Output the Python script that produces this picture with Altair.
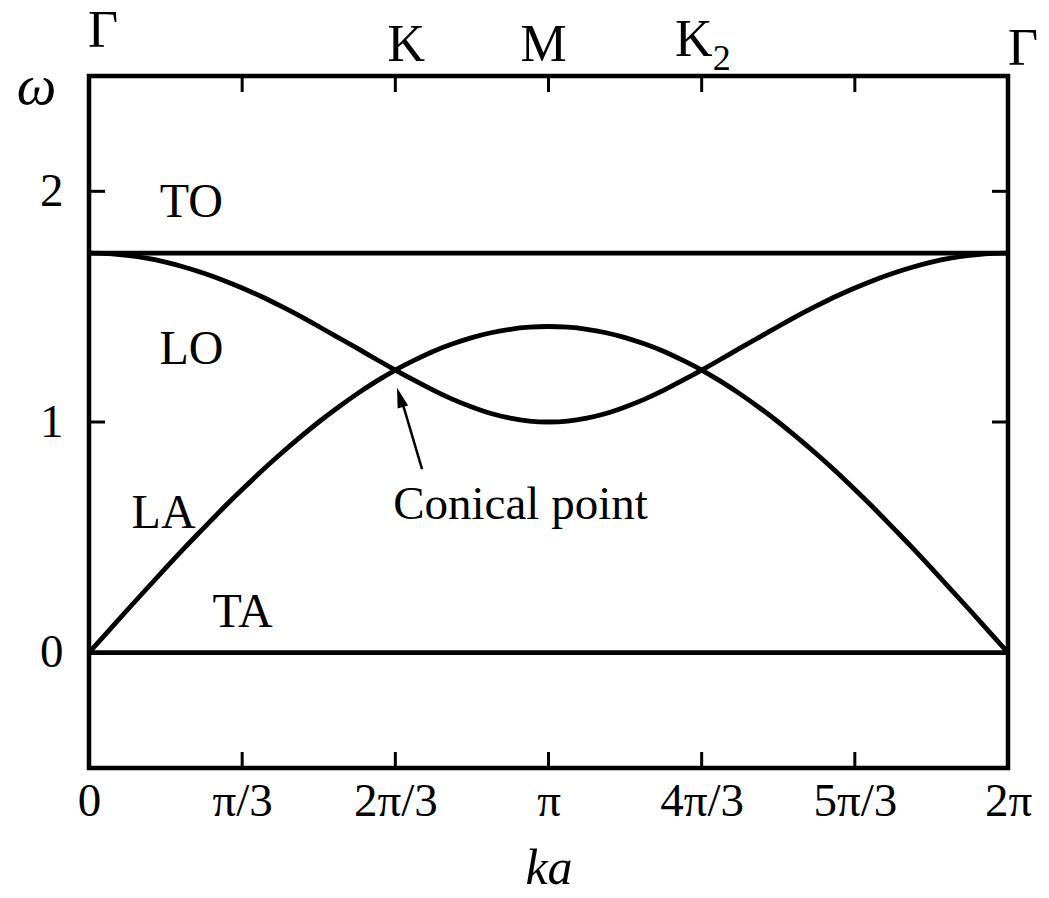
import math
import altair as alt
import pandas as pd

PI = math.pi

# Phonon branches sampled along Gamma-K-M-K2-Gamma, step pi/24 in ka
k_steps = list(range(49))
la_half = [0.000, 0.092, 0.185, 0.276, 0.366, 0.455, 0.541, 0.626, 0.707, 0.786, 0.861, 0.932,
           1.000, 1.063, 1.122, 1.176, 1.225, 1.268, 1.307, 1.339, 1.366, 1.387, 1.402, 1.411, 1.414]
lo_half = [1.732, 1.730, 1.722, 1.710, 1.693, 1.671, 1.645, 1.615, 1.581, 1.544, 1.503, 1.460,
           1.414, 1.367, 1.320, 1.272, 1.225, 1.180, 1.137, 1.098, 1.065, 1.037, 1.017, 1.004, 1.000]
# second half of the path mirrors the first (M is the midpoint)
la_values = la_half + la_half[-2::-1]
lo_values = lo_half + lo_half[-2::-1]
to_value = 1.732
ta_value = 0.0

# Axis ticks and labels
x_tick_steps = [0, 1, 2, 3, 4, 5, 6]          # multiples of pi/3
x_tick_labels = ["0", "π/3", "2π/3", "π", "4π/3", "5π/3", "2π"]
y_ticks = [0, 1, 2]

# Branch names and their positions (ka, omega)
branch_names = ["TO", "LO", "LA", "TA"]
branch_ka = [0.70, 0.70, 0.51, 1.05]
branch_omega = [1.95, 1.31, 0.60, 0.17]

# Annotation for the crossing of LA and LO
note_text = "Conical point"
note_ka, note_omega = 2.95, 0.64
arrow_tail = (2.277, 0.796)
arrow_tip = (2.106, 1.148)

FONT = "Liberation Serif"
W, H = 919, 692
X_DOM = [0, 2 * PI]
Y_DOM = [-0.5, 2.5]

xs = alt.Scale(domain=X_DOM, nice=False, zero=False)
ys = alt.Scale(domain=Y_DOM, nice=False, zero=False)

ka = [n * PI / 24 for n in k_steps]
curves = pd.concat([
    pd.DataFrame({"ka": ka, "omega": la_values, "branch": "LA"}),
    pd.DataFrame({"ka": ka, "omega": lo_values, "branch": "LO"}),
    pd.DataFrame({"ka": [0, 2 * PI], "omega": [to_value, to_value], "branch": "TO"}),
    pd.DataFrame({"ka": [0, 2 * PI], "omega": [ta_value, ta_value], "branch": "TA"}),
])

label_expr = "[" + ",".join("'%s'" % s for s in x_tick_labels) + "][round(datum.value*3/PI)]"

lines = alt.Chart(curves).mark_line(
    color="black", strokeWidth=4.8, interpolate="natural", clip=True
).encode(
    x=alt.X("ka:Q", scale=xs, axis=alt.Axis(
        values=[s * PI / 3 for s in x_tick_steps], labelExpr=label_expr,
        title="ka", titleFontStyle="italic", titleFontWeight="normal",
        titleFont=FONT, titleFontSize=50, titleY=100, titleBaseline="middle",
        labelFont=FONT, labelFontSize=47, labelPadding=10, labelColor="black",
        ticks=False, domain=False, grid=False, labelFlush=False,
    )),
    y=alt.Y("omega:Q", scale=ys, axis=alt.Axis(
        values=y_ticks, format="d",
        title="ω", titleAngle=0, titleFontStyle="italic", titleFontWeight="normal",
        titleFont=FONT, titleFontSize=56, titleX=-53, titleY=10,
        titleAlign="center", titleBaseline="middle",
        labelFont=FONT, labelFontSize=47, labelPadding=26, labelColor="black",
        ticks=False, domain=False, grid=False, labelFlush=False,
    )),
    detail="branch:N",
)

# Inward ticks on all four sides of the frame
xt = pd.DataFrame({"ka": [s * PI / 3 for s in x_tick_steps[1:-1]]})
yt = pd.DataFrame({"omega": y_ticks[1:]})
tick_style = dict(color="black", strokeWidth=3)
bottom_ticks = alt.Chart(xt).mark_rule(**tick_style).encode(
    x=alt.X("ka:Q", scale=xs), y=alt.value(H), y2=alt.value(H - 16))
top_ticks = alt.Chart(xt).mark_rule(**tick_style).encode(
    x=alt.X("ka:Q", scale=xs), y=alt.value(0), y2=alt.value(16))
left_ticks = alt.Chart(yt).mark_rule(**tick_style).encode(
    y=alt.Y("omega:Q", scale=ys), x=alt.value(0), x2=alt.value(16))
right_ticks = alt.Chart(yt).mark_rule(**tick_style).encode(
    y=alt.Y("omega:Q", scale=ys), x=alt.value(W), x2=alt.value(W - 16))

# Symmetry point labels above the frame
def point_label(text, at, dx, y, size=52):
    return alt.Chart(pd.DataFrame({"ka": [at], "t": [text]})).mark_text(
        font=FONT, fontSize=size, color="black", baseline="alphabetic",
        align="center", dx=dx
    ).encode(x=alt.X("ka:Q", scale=xs), y=alt.value(y), text="t:N")

top_labels = [
    point_label("Γ", 0, 14, 47 - 76),
    point_label("K", 2 * PI / 3, 11, 61 - 76),
    point_label("M", PI, -5, 61 - 76),
    point_label("K", 4 * PI / 3, -8, 56 - 76),
    point_label("2", 4 * PI / 3, 20, 70 - 76, size=36),
    point_label("Γ", 2 * PI, 15, 65 - 76),
]

branch_df = pd.DataFrame({"ka": branch_ka, "omega": branch_omega, "name": branch_names})
branch_text = alt.Chart(branch_df).mark_text(
    font=FONT, fontSize=48, color="black", baseline="middle", align="center"
).encode(x=alt.X("ka:Q", scale=xs), y=alt.Y("omega:Q", scale=ys), text="name:N")

note = alt.Chart(pd.DataFrame({"ka": [note_ka], "omega": [note_omega], "t": [note_text]})).mark_text(
    font=FONT, fontSize=47, color="black", baseline="middle", align="center"
).encode(x=alt.X("ka:Q", scale=xs), y=alt.Y("omega:Q", scale=ys), text="t:N")

arrow_df = pd.DataFrame({"ka": [arrow_tail[0]], "omega": [arrow_tail[1]],
                         "ka2": [arrow_tip[0] + 0.03], "omega2": [arrow_tip[1] - 0.05]})
arrow_line = alt.Chart(arrow_df).mark_rule(color="black", strokeWidth=2.5).encode(
    x=alt.X("ka:Q", scale=xs), y=alt.Y("omega:Q", scale=ys),
    x2="ka2:Q", y2="omega2:Q")
arrow_head = alt.Chart(pd.DataFrame({"ka": [arrow_tip[0]], "omega": [arrow_tip[1]]})).mark_point(
    shape="M0,0 L-0.55,2 L0.55,2 Z", size=400, filled=True, color="black",
    opacity=1, angle=343, strokeWidth=0
).encode(x=alt.X("ka:Q", scale=xs), y=alt.Y("omega:Q", scale=ys))

chart = alt.layer(
    lines, bottom_ticks, top_ticks, left_ticks, right_ticks,
    branch_text, note, arrow_line, arrow_head, *top_labels
).properties(
    width=W, height=H,
    autosize=alt.AutoSizeParams(type="none"),
    padding={"left": 89, "top": 76, "right": 41, "bottom": 130},
    background="white",
).configure_view(
    stroke="black", strokeWidth=4.5
)

chart.save("out.html", embed_options={"renderer": "svg", "actions": False})
